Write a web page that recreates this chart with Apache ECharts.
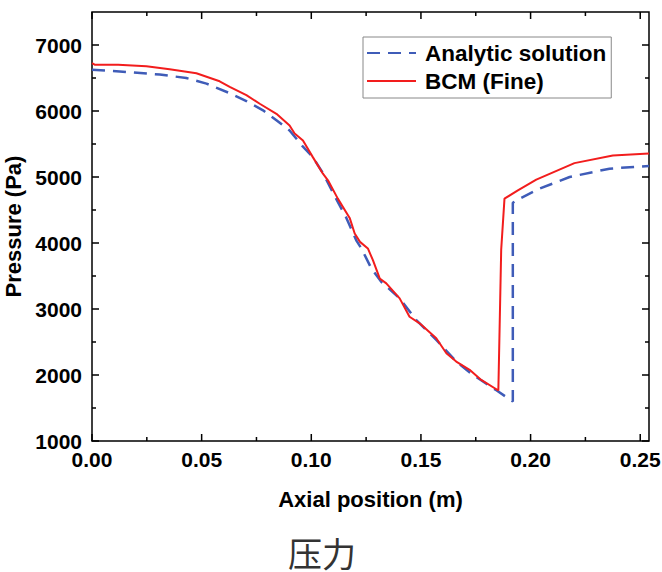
<!DOCTYPE html>
<html>
<head>
<meta charset="utf-8">
<script src="https://cdn.jsdelivr.net/npm/echarts@6/dist/echarts.min.js"></script>
<style>
  html, body { margin: 0; padding: 0; background: #fff; }
  #chart { width: 662px; height: 572px; }
</style>
</head>
<body>
<div id="chart"></div>
<script>
// Axial pressure distribution: analytic solution vs. BCM (fine grid)
const analyticX = [0, 0.0126, 0.0309, 0.043, 0.0522, 0.0628, 0.0704, 0.078, 0.0841, 0.0901,
  0.0962, 0.1007, 0.1053, 0.1099, 0.116, 0.1205, 0.1228, 0.1274, 0.1319, 0.1403,
  0.1479, 0.157, 0.1661, 0.1737, 0.1844, 0.1919, 0.1919, 0.195, 0.2041, 0.2178, 0.236, 0.254];
const analyticP = [6625, 6600, 6552, 6500, 6415, 6270, 6150, 6010, 5860, 5705,
  5460, 5300, 5060, 4760, 4380, 4040, 3920, 3614, 3412, 3161,
  2833, 2531, 2203, 2002, 1768, 1600, 4610, 4672, 4823, 5000, 5126, 5168];

const bcmX = [0, 0.0012, 0.0119, 0.0248, 0.0354, 0.0476, 0.0582, 0.0628, 0.0704, 0.0765,
  0.0841, 0.0901, 0.0924, 0.0962, 0.1007, 0.1053, 0.1076, 0.1121, 0.1175, 0.1198,
  0.1222, 0.1258, 0.1281, 0.1312, 0.1342, 0.1403, 0.1448, 0.1494, 0.157, 0.1616,
  0.1661, 0.1722, 0.1775, 0.1853, 0.1866, 0.1881, 0.1942, 0.2026, 0.22, 0.2375, 0.254];
const bcmP = [6725, 6702, 6700, 6677, 6632, 6571, 6450, 6365, 6240, 6110,
  5957, 5780, 5660, 5553, 5301, 5050, 4950, 4672, 4380, 4143,
  4017, 3917, 3740, 3463, 3388, 3161, 2883, 2783, 2557, 2330,
  2203, 2078, 1926, 1765, 3900, 4672, 4798, 4960, 5210, 5327, 5355];

// Tick labels (major ticks) and minor tick positions
const xTickLabels = [0, 0.05, 0.10, 0.15, 0.20, 0.25];
const xMinorTicks = [0.025, 0.075, 0.125, 0.175, 0.225];
const yTickLabels = [1000, 2000, 3000, 4000, 5000, 6000, 7000];
const yMinorTicks = [1500, 2500, 3500, 4500, 5500, 6500];

const X_MIN = 0, X_MAX = 0.254, Y_MIN = 1000, Y_MAX = 7500;

const zip = (xs, ys) => xs.map((x, i) => [x, ys[i]]);

const FONT = '"Liberation Sans", Arial, sans-serif';

// Plot frame geometry, used to express tick lengths in axis units
const CHART_W = 662, CHART_H = 572;
const GRID = { left: 92, right: 13, top: 12, bottom: 131 };
const PLOT_W = CHART_W - GRID.left - GRID.right;
const PLOT_H = CHART_H - GRID.top - GRID.bottom;
const X_PER_PX = (X_MAX - X_MIN) / PLOT_W;
const Y_PER_PX = (Y_MAX - Y_MIN) / PLOT_H;
const MAJOR_LEN = 7, MINOR_LEN = 4;

// Inward tick segments on all four sides, separated by gaps
function tickSegments() {
  const out = [];
  const gap = v => out.push([v, '-']);
  const xTicks = xTickLabels.map(v => [v, MAJOR_LEN]).concat(xMinorTicks.map(v => [v, MINOR_LEN]));
  const yTicks = yTickLabels.map(v => [v, MAJOR_LEN]).concat(yMinorTicks.map(v => [v, MINOR_LEN]));
  xTicks.forEach(([v, len]) => {
    out.push([v, Y_MIN], [v, Y_MIN + len * Y_PER_PX]); gap(v);
    out.push([v, Y_MAX], [v, Y_MAX - len * Y_PER_PX]); gap(v);
  });
  yTicks.forEach(([v, len]) => {
    out.push([X_MIN, v], [X_MIN + len * X_PER_PX, v]); gap(X_MIN);
    out.push([X_MAX, v], [X_MAX - len * X_PER_PX, v]); gap(X_MAX);
  });
  return out;
}

const chart = echarts.init(document.getElementById('chart'), null, { renderer: 'svg' });

chart.setOption({
  animation: false,
  title: {
    text: '压力',
    left: 288, top: 535, padding: 0,
    textStyle: { color: '#333', fontSize: 34, lineHeight: 34, fontWeight: 'normal',
      fontFamily: '"Noto Sans CJK SC", sans-serif' }
  },
  grid: {
    left: GRID.left, right: GRID.right, top: GRID.top, bottom: GRID.bottom,
    containLabel: false, outerBoundsMode: 'none',
    show: true, borderColor: '#000', borderWidth: 1.5, backgroundColor: 'transparent'
  },
  legend: {
    orient: 'vertical',
    left: 363, top: 37,
    padding: [4, 5, 5, 3],
    borderColor: '#888', borderWidth: 1,
    itemWidth: 49, itemHeight: 14, itemGap: 4,
    itemStyle: { opacity: 0 },
    textStyle: { color: '#000', fontSize: 22.5, fontWeight: 'bold', fontFamily: FONT,
      lineHeight: 24, padding: [0, 0, 0, 4] },
    data: ['Analytic solution', 'BCM (Fine)']
  },
  xAxis: {
    type: 'value', min: X_MIN, max: X_MAX, interval: 0.05,
    splitLine: { show: false },
    axisLine: { show: false },
    axisTick: { show: false },
    axisLabel: {
      show: true, customValues: xTickLabels, margin: 8,
      formatter: v => v.toFixed(2),
      color: '#000', fontSize: 21, fontWeight: 'bold', fontFamily: FONT
    },
    name: 'Axial position (m)', nameLocation: 'middle', nameGap: 47,
    nameTextStyle: { color: '#000', fontSize: 22, fontWeight: 'bold', fontFamily: FONT }
  },
  yAxis: {
    type: 'value', min: Y_MIN, max: Y_MAX, interval: 1000,
    splitLine: { show: false },
    axisLine: { show: false },
    axisTick: { show: false },
    axisLabel: {
      show: true, customValues: yTickLabels, margin: 10,
      formatter: v => String(v),
      color: '#000', fontSize: 21, fontWeight: 'bold', fontFamily: FONT
    },
    name: 'Pressure (Pa)', nameLocation: 'middle', nameGap: 62,
    nameTextStyle: { color: '#000', fontSize: 22, fontWeight: 'bold', fontFamily: FONT }
  },
  series: [
    {
      name: 'Analytic solution', type: 'line', z: 2,
      symbol: 'none', smooth: false,
      data: zip(analyticX, analyticP),
      itemStyle: { color: '#3F5CB8' },
      lineStyle: { color: '#3F5CB8', width: 2.5, type: [13, 8] }
    },
    {
      name: 'BCM (Fine)', type: 'line', z: 3,
      symbol: 'none', smooth: false,
      data: zip(bcmX, bcmP),
      itemStyle: { color: '#F21D1D' },
      lineStyle: { color: '#F21D1D', width: 2 }
    },
    {
      name: 'frame ticks', type: 'line', z: 4, silent: true,
      symbol: 'none', connectNulls: false, clip: false,
      data: tickSegments(),
      itemStyle: { color: '#000' },
      lineStyle: { color: '#000', width: 1.5 }
    }
  ]
});
</script>
</body>
</html>
